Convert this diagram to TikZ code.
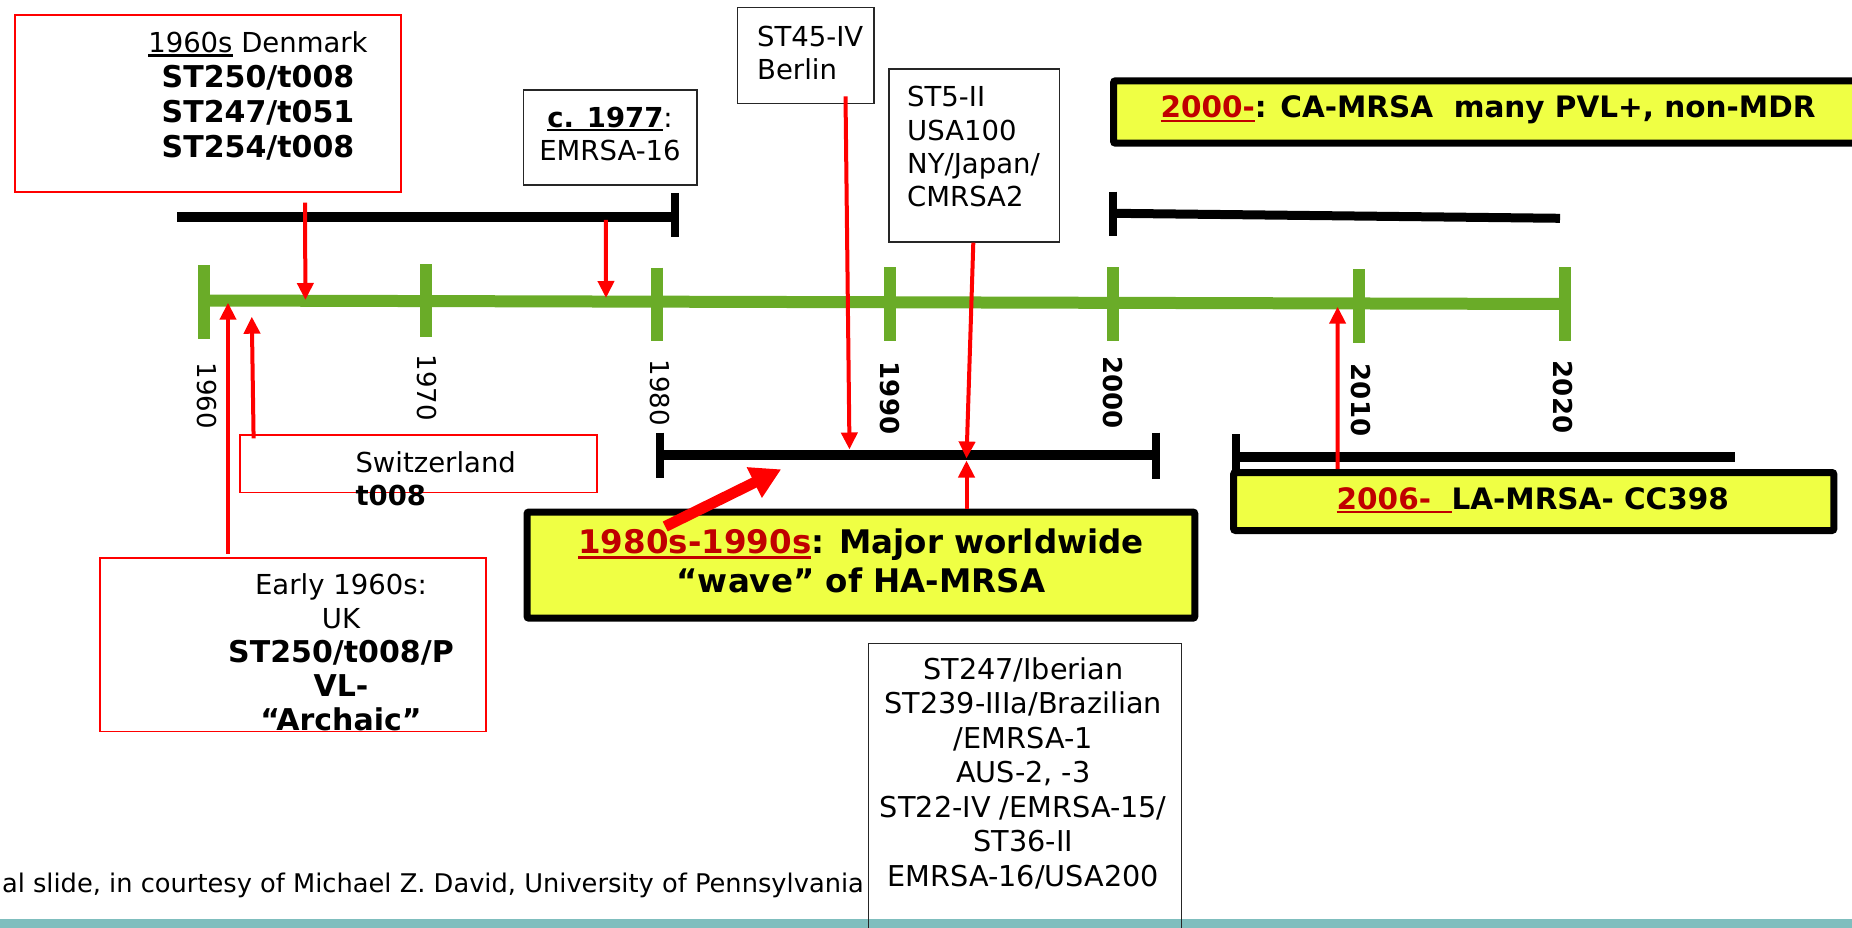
\documentclass[tikz,border=0pt]{standalone}
\usepackage{fontspec}
\setmainfont{DejaVu Sans}
\usetikzlibrary{arrows.meta}
\definecolor{tlgreen}{RGB}{106,172,40}
\definecolor{hlyel}{RGB}{239,255,68}
\definecolor{dkred}{RGB}{192,0,0}
\definecolor{band}{RGB}{127,190,190}
\newcommand\fnorm{\fontsize{27.5}{33.3}\selectfont}
\newcommand\fbld{\bfseries\fontsize{30}{35}\selectfont}
\newcommand\fbig{\bfseries\fontsize{32.5}{38.3}\selectfont}
\newcommand\fban{\bfseries\fontsize{29.5}{34}\selectfont}
\newcommand\fyr{\fontsize{26}{30}\selectfont}
\newcommand\ulin[1]{\leavevmode\setbox0\hbox{#1}\rlap{\rule[-.15em]{\wd0}{.08em}}\box0\relax}

\begin{document}
\begin{tikzpicture}[x=1pt,y=-1pt,
  txt/.style={inner sep=0},
  redbox/.style={draw=red,line width=1.8pt,inner sep=0},
  blkbox/.style={draw=black!85,line width=1.5pt,inner sep=0},
  ylwbox/.style={draw=black,line width=7pt,fill=hlyel,rounded corners=2pt,inner sep=0},
  bar/.style={line width=10pt},
  tick/.style={tlgreen,line width=12pt},
  yrlab/.style={rotate=-90,font=\fyr,inner sep=0},
  redarr/.style={red,line width=4pt,-{Triangle[length=17pt,width=16pt]}},
  wavearr/.style={red,line width=11pt,-{Triangle[length=30pt,width=32pt]}}]
\useasboundingbox (0,0) rectangle (1852,928);
\fill[band] (0,919) rectangle (1852,928);

% black period bars
\draw[bar] (177,216.7)--(675,216.7);
\draw[bar,line width=8pt] (675,193)--(675,237);
\draw[bar,line width=8pt] (1113,191.7)--(1113,236);
\draw[bar,line width=9pt] (1113,213.3)--(1560,218.3);
\draw[bar] (659.5,454.7)--(1155.5,454.7);
\draw[bar,line width=8pt] (659.5,432.7)--(659.5,478.3);
\draw[bar,line width=8pt] (1155.5,432.7)--(1155.5,479.3);
\draw[bar] (1236,457)--(1735,457);
\draw[bar,line width=8pt] (1236,434.3)--(1236,470);

% time line
\draw[tlgreen,line width=12pt] (203.6,300.5)--(1565,304);
\foreach\x/\a/\b in{203.6/265/339.3,425.6/264/337.3,657.4/267.7/341,889.6/267.3/340.7,1112.6/267/340.7,1359/269.3/342.7,1565/267.3/340.7}
\draw[tick] (\x,\a)--(\x,\b);
\foreach\x/\y/\yr in{206.7/396/1960,426.8/388/1970,659.8/393/1980}
\node[yrlab] (y\yr) at (\x,\y) {\yr};
\foreach\x/\y/\yr in{889.6/398/1990,1113/392.5/2000,1361/400/2010,1562.5/397/2020}
\node[yrlab,font=\fyr\bfseries] (y\yr) at (\x,\y) {\yr};

% boxes
\node[redbox,minimum width=385.7pt,minimum height=176.9pt] (dkbox) at (208,103.3) {};
\node[blkbox,minimum width=173.2pt,minimum height=95.2pt] (c77box) at (610.3,137.6) {};
\node[blkbox,minimum width=136.7pt,minimum height=96.1pt] (st45box) at (805.8,55.5) {};
\node[blkbox,minimum width=170.5pt,minimum height=172.9pt] (st5box) at (974,155.5) {};
\node[ylwbox,minimum width=766.5pt,minimum height=62.4pt] (box00) at (1496.8,112) {};
\node[redbox,minimum width=356.6pt,minimum height=57.2pt] (swbox) at (418.5,463.8) {};
\node[ylwbox,minimum width=667.8pt,minimum height=106.2pt] (box80) at (860.9,565.1) {};
\node[ylwbox,minimum width=600.3pt,minimum height=58pt] (box06) at (1533.7,501.5) {};
\node[redbox,minimum width=386.2pt,minimum height=173.8pt] (earlybox) at (292.7,644.5) {};
\node[blkbox,minimum width=313.3pt,minimum height=316.5pt] (st247box) at (1024.9,801.7) {};

% arrow ends on the bars
\coordinate (tdk) at (305.4,300);
\coordinate (t77) at (606,298);
\coordinate (t45) at (849.5,449.5);
\coordinate (t5) at (966.5,458.5);
\coordinate (tsw) at (251.8,316.7);
\coordinate (tearly) at (228,302.7);
\coordinate (t06) at (1337.6,306.7);
\coordinate (t80) at (966.5,460.5);
\coordinate (twave) at (781.2,469.3);

\draw[redarr,shorten <=10pt] ([xshift=97pt]dkbox.south)--(tdk);
\draw[redarr,shorten <=34pt] ([xshift=-4.5pt]c77box.south)--(t77);
\draw[redarr] ([xshift=39.7pt,yshift=8pt]st45box.south)--(t45);
\draw[redarr] ([xshift=-0.7pt]st5box.south)--(t5);
\draw[redarr] ([xshift=-164.9pt,yshift=-4pt]swbox.north)--(tsw);
\draw[redarr] ([xshift=-64.7pt,yshift=3pt]earlybox.north)--(tearly);
\draw[redarr] ([xshift=-196.1pt]box06.north)--(t06);
\draw[redarr] ([xshift=105.6pt]box80.north)--(t80);
\draw[wavearr] ([xshift=-195.7pt,yshift=-18pt]box80.north)--(twave);

% texts
\node[txt,font={\fontsize{27.5}{35}\selectfont},align=center] (dktxt) at (258,96)
 {\ulin{1960s} Denmark\\{\fbld ST250/t008}\\{\fbld ST247/t051}\\{\fbld ST254/t008}};
\node[txt,font=\fnorm,align=center] (c77txt) at (610,134) {\textbf{\ulin{c. 1977}}:\\EMRSA-16};
\node[txt,font=\fnorm,align=left,anchor=west] (st45txt) at (757,53.3) {ST45-IV\\Berlin};
\node[txt,font=\fnorm,align=left,anchor=west] (st5txt) at (907,146.7) {ST5-II\\USA100\\NY/Japan/\\CMRSA2};
\node[txt,font=\fban,anchor=base] (txt00) at (1488,117.5)
 {\textcolor{dkred}{\ulin{2000-}}: CA-MRSA\ \ many PVL+, non-MDR};
\node[txt,font=\fnorm,align=left,anchor=west] (swtxt) at (355.3,478.4) {Switzerland\\{\bfseries t008}};
\node[txt,font=\fbig,align=center] (txt80) at (861,561)
 {\textcolor{dkred}{\ulin{1980s-1990s}}: Major worldwide\\“wave” of HA-MRSA};
\node[txt,font=\fban,anchor=base] (txt06) at (1532.8,509)
 {\textcolor{dkred}{\ulin{2006-\ \ }}LA-MRSA- CC398};
\node[txt,font={\fontsize{27.5}{34}\selectfont},align=center] (earlytxt) at (341,652.5)
 {Early 1960s:\\UK\\{\fbld ST250/t008/P}\\{\fbld VL-}\\{\fbld “Archaic”}};
\node[txt,font={\fontsize{28.7}{34.5}\selectfont},align=center] (st247txt) at (1023.3,773)
 {ST247/Iberian\\ST239-IIIa/Brazilian\\/EMRSA-1\\AUS-2, -3\\ST22-IV /EMRSA-15/\\ST36-II\\EMRSA-16/USA200};
\node[txt,font={\fontsize{25.7}{30}\selectfont},anchor=base east] (credit) at (864,892.4)
 {al slide, in courtesy of Michael Z. David, University of Pennsylvania};
\end{tikzpicture}
\end{document}
